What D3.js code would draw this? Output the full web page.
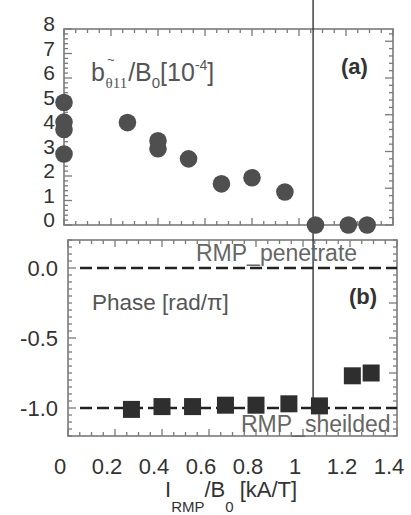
<!DOCTYPE html>
<html>
<head>
<meta charset="utf-8">
<script src="https://cdn.jsdelivr.net/npm/d3@7"></script>
<style>
  body { margin: 0; background: #fff; }
  svg { display: block; font-family: "Liberation Sans", Arial, sans-serif; }
</style>
</head>
<body>
<svg id="chart" width="411" height="515"></svg>
<script>
// panel (a): island amplitude vs coil current
const ampCurrent = [0, 0, 0, 0, 0.27, 0.40, 0.40, 0.53, 0.67, 0.80, 0.94, 1.07, 1.21, 1.29]
const ampValue = [5.0, 4.2, 3.9, 2.9, 4.18, 3.44, 3.11, 2.70, 1.68, 1.93, 1.35, 0, 0, 0]

// panel (b): phase vs coil current
const phaseCurrent = [0.27, 0.40, 0.53, 0.67, 0.80, 0.94, 1.07, 1.21, 1.29]
const phaseValue = [-1.01, -0.99, -0.99, -0.98, -0.98, -0.97, -0.985, -0.77, -0.75]

const xTicks = [0, 0.2, 0.4, 0.6, 0.8, 1, 1.2, 1.4]
const xTickLabels = ['0', '0.2', '0.4', '0.6', '0.8', '1', '1.2', '1.4']
const ampTicks = [0, 1, 2, 3, 4, 5, 6, 7, 8]
const phaseTicks = [0, -0.5, -1]
const phaseTickLabels = ['0.0', '-0.5', '-1.0']
const threshold = 1.06

const svg = d3.select('#chart')
const frameColor = '#7a7a7a'

// scales, bottom panel sits a few px to the right like in the scan
const xA = d3.scaleLinear().domain([0, 1.4]).range([64, 393])
const yA = d3.scaleLinear().domain([0, 8]).range([225, 29])
const xB = d3.scaleLinear().domain([0, 1.4]).range([68, 397])
const yB = d3.scaleLinear().domain([-1.2, 0.2]).range([436, 240])

function drawFrame(x, y, xMinor, yLeftMinor, yLeftMajor, yRightMinor, yRightMajor) {
  const [x0, x1] = x.range()
  const [y0, y1] = y.range()
  const g = svg.append('g')
  g.append('rect')
    .attr('x', x0).attr('y', y1)
    .attr('width', x1 - x0).attr('height', y0 - y1)
    .attr('fill', 'none').attr('stroke', frameColor).attr('stroke-width', 1.6)

  const isMajor = (v, step) => Math.abs(v / step - Math.round(v / step)) < 1e-6
  // top and bottom ticks
  d3.range(0, 1.4 + 1e-9, xMinor).forEach(v => {
    const len = isMajor(v, 0.2) ? 7 : 4
    g.append('line').attr('x1', x(v)).attr('x2', x(v)).attr('y1', y0).attr('y2', y0 - len)
      .attr('stroke', frameColor).attr('stroke-width', 1.3)
    g.append('line').attr('x1', x(v)).attr('x2', x(v)).attr('y1', y1).attr('y2', y1 + len)
      .attr('stroke', frameColor).attr('stroke-width', 1.3)
  })
  const [d0, d1] = y.domain()
  d3.range(d0, d1 + 1e-9, yLeftMinor).forEach(v => {
    const len = isMajor(v, yLeftMajor) ? 8 : 4
    g.append('line').attr('x1', x0).attr('x2', x0 + len).attr('y1', y(v)).attr('y2', y(v))
      .attr('stroke', frameColor).attr('stroke-width', 1.3)
  })
  d3.range(d0, d1 + 1e-9, yRightMinor).forEach(v => {
    const len = isMajor(v, yRightMajor) ? 8 : 4
    g.append('line').attr('x1', x1).attr('x2', x1 - len).attr('y1', y(v)).attr('y2', y(v))
      .attr('stroke', frameColor).attr('stroke-width', 1.3)
  })
}

drawFrame(xA, yA, 0.05, 0.2, 1, 0.3, 1.5)
drawFrame(xB, yB, 0.05, 0.05, 0.5, 0.05, 0.25)

// y tick labels (a)
svg.append('g').selectAll('text')
  .data(ampTicks)
  .join('text')
  .attr('x', 55)
  .attr('y', d => yA(d) - 5)
  .attr('dy', '0.35em')
  .attr('text-anchor', 'end')
  .attr('font-size', 21)
  .attr('fill', '#333')
  .text(d => d)

// y tick labels (b)
svg.append('g').selectAll('text')
  .data(phaseTicks)
  .join('text')
  .attr('x', 58)
  .attr('y', d => yB(d))
  .attr('dy', '0.35em')
  .attr('text-anchor', 'end')
  .attr('font-size', 22)
  .attr('fill', '#333')
  .text((d, i) => phaseTickLabels[i])

// x tick labels under (b)
svg.append('g').selectAll('text')
  .data(xTicks)
  .join('text')
  .attr('x', d => xA(d) - 4)
  .attr('y', 474)
  .attr('text-anchor', 'middle')
  .attr('font-size', 22)
  .attr('fill', '#333')
  .text((d, i) => xTickLabels[i])

// dashed reference lines in (b)
;[0, -1].forEach(v => {
  svg.append('line')
    .attr('x1', xB(0) + 12).attr('x2', xB.range()[1])
    .attr('y1', yB(v)).attr('y2', yB(v))
    .attr('stroke', '#222').attr('stroke-width', 2.5)
    .attr('stroke-dasharray', '12,5')
})

// threshold line across both panels
svg.append('line')
  .attr('x1', xA(threshold)).attr('x2', xA(threshold))
  .attr('y1', 0).attr('y2', yB(-1))
  .attr('stroke', '#333').attr('stroke-width', 1.4)

// points (a)
svg.append('g').selectAll('circle')
  .data(ampCurrent)
  .join('circle')
  .attr('cx', d => xA(d))
  .attr('cy', (d, i) => yA(ampValue[i]))
  .attr('r', 8.8)
  .attr('fill', '#4f4f4f')

// squares (b)
const sq = 17
svg.append('g').selectAll('rect')
  .data(phaseCurrent)
  .join('rect')
  .attr('x', d => xB(d) - sq / 2)
  .attr('y', (d, i) => yB(phaseValue[i]) - sq / 2)
  .attr('width', sq).attr('height', sq)
  .attr('fill', '#2e2e2e')

// labels inside panels
const ampLabel = svg.append('text')
  .attr('x', 91).attr('y', 81)
  .attr('font-size', 25)
  .attr('fill', '#555')
ampLabel.append('tspan').text('b')
ampLabel.append('tspan').attr('font-size', 13).attr('dy', -17).attr('dx', 2).text('~')
ampLabel.append('tspan').attr('font-size', 15).attr('dy', 24).attr('dx', -9)
  .attr('font-family', '"Liberation Serif", serif').text('θ11')
ampLabel.append('tspan').attr('dy', -7).attr('dx', 1).text('/B')
ampLabel.append('tspan').attr('font-size', 15).attr('dy', 7).text('0')
ampLabel.append('tspan').attr('dy', -7).text('[10')
ampLabel.append('tspan').attr('font-size', 14).attr('dy', -11).text('-4')
ampLabel.append('tspan').attr('dy', 11).text(']')

svg.append('text')
  .attr('x', 341).attr('y', 74)
  .attr('font-size', 22).attr('font-weight', 'bold')
  .attr('fill', '#333')
  .text('(a)')

svg.append('text')
  .attr('x', 349).attr('y', 304)
  .attr('font-size', 22).attr('font-weight', 'bold')
  .attr('fill', '#333')
  .text('(b)')

svg.append('text')
  .attr('x', 196).attr('y', 261)
  .attr('font-size', 23)
  .attr('fill', '#666')
  .text('RMP_penetrate')

svg.append('text')
  .attr('x', 92).attr('y', 310)
  .attr('font-size', 22.5)
  .attr('fill', '#555')
  .text('Phase [rad/π]')

svg.append('text')
  .attr('x', 241).attr('y', 432)
  .attr('font-size', 23)
  .attr('fill', '#666')
  .text('RMP_sheilded')

// x axis title
const xTitle = svg.append('text')
  .attr('x', 165).attr('y', 497)
  .attr('font-size', 22)
  .attr('fill', '#333')
xTitle.append('tspan').text('I')
xTitle.append('tspan').attr('font-size', 15).attr('dy', 15).text('RMP')
xTitle.append('tspan').attr('dy', -15).text('/B')
xTitle.append('tspan').attr('font-size', 15).attr('dy', 15).text('0')
xTitle.append('tspan').attr('dy', -15).text(' [kA/T]')
</script>
</body>
</html>
